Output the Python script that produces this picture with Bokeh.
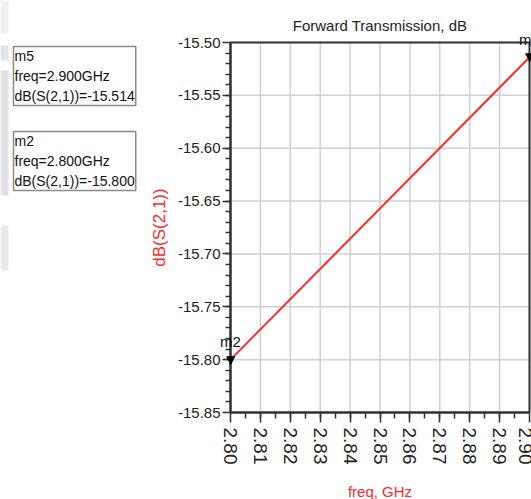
import numpy as np
from bokeh.plotting import figure
from bokeh.models import Range1d, FixedTicker, PrintfTickFormatter, Label, BoxAnnotation
from bokeh.embed import file_html
from bokeh.resources import INLINE

# Swept S21 response (two marker readings bound the sweep)
freq_ghz = [2.800, 2.900]
s21_db = [-15.800, -15.514]

# Markers placed on the trace
marker_names = ["m5", "m2"]
marker_freq = [2.900, 2.800]
marker_db = [-15.514, -15.800]

# Axis tick values
freq_ticks = [2.80, 2.81, 2.82, 2.83, 2.84, 2.85, 2.86, 2.87, 2.88, 2.89, 2.90]
db_ticks = [-15.85, -15.80, -15.75, -15.70, -15.65, -15.60, -15.55, -15.50]

FONT = "Liberation Sans"
RED = "#ff2a2a"
DARK = "#333333"

# Canvas and plotting-box geometry (pixels)
W, H = 531, 499
BOX_L, BOX_R, BOX_T, BOX_B = 230, 529, 42, 412

x_lo, x_hi = freq_ticks[0], freq_ticks[-1]
y_lo, y_hi = db_ticks[0], db_ticks[-1]
kx = (x_hi - x_lo) / (BOX_R - BOX_L)
ky = (y_hi - y_lo) / (BOX_B - BOX_T)

# The drawing area spans the whole canvas so that marker tags and readouts
# may sit outside the axes box; the axes are pinned to the box edges.
p = figure(width=W, height=H, output_backend="svg", toolbar_location=None, title=None,
           x_range=Range1d(x_lo - BOX_L * kx, x_hi + (W - BOX_R) * kx),
           y_range=Range1d(y_lo - (H - BOX_B) * ky, y_hi + BOX_T * ky),
           min_border=0)
p.background_fill_color = "white"
p.border_fill_color = "white"
p.outline_line_color = None
p.grid.visible = False

# Grid lines inside the axes box
p.segment(x0=freq_ticks, x1=freq_ticks, y0=[y_lo] * len(freq_ticks), y1=[y_hi] * len(freq_ticks),
          line_color="#d0d0d0", line_width=1.5)
p.segment(x0=[x_lo] * len(db_ticks), x1=[x_hi] * len(db_ticks), y0=db_ticks, y1=db_ticks,
          line_color="#d0d0d0", line_width=1.5)

# Box border
p.quad(left=[x_lo], right=[x_hi], bottom=[y_lo], top=[y_hi],
       fill_color=None, line_color=DARK, line_width=2)

x_minor = list(np.arange(0.005, 0.1, 0.005) + x_lo)
y_minor = list(np.arange(0.01, 0.35, 0.01) + y_lo)
p.xaxis.ticker = FixedTicker(ticks=freq_ticks, minor_ticks=x_minor)
p.yaxis.ticker = FixedTicker(ticks=db_ticks, minor_ticks=y_minor)
p.xaxis.formatter = PrintfTickFormatter(format="%.2f")
p.yaxis.formatter = PrintfTickFormatter(format="%.2f")
p.xaxis.fixed_location = y_lo
p.yaxis.fixed_location = x_lo
p.xaxis.bounds = (x_lo, x_hi)
p.yaxis.bounds = (y_lo, y_hi)

for ax in (p.xaxis[0], p.yaxis[0]):
    ax.axis_line_color = DARK
    ax.axis_line_width = 2
    ax.major_tick_line_color = DARK
    ax.minor_tick_line_color = DARK
    ax.major_tick_line_width = 1.5
    ax.minor_tick_line_width = 1.5
    ax.major_tick_in = 0
    ax.minor_tick_in = 0
    ax.major_label_text_font = FONT
    ax.major_label_text_color = "#222222"
    ax.axis_label_text_font = FONT
    ax.axis_label_text_font_style = "normal"
    ax.axis_label_text_color = RED

p.xaxis.major_tick_out = 10
p.xaxis.minor_tick_out = 6
p.xaxis.major_label_orientation = -np.pi / 2
p.xaxis.major_label_text_font_size = "19px"
p.xaxis.major_label_standoff = 5
p.xaxis.axis_label = "freq, GHz"
p.xaxis.axis_label_text_font_size = "15px"
p.xaxis.axis_label_standoff = 16

p.yaxis.major_tick_out = 8
p.yaxis.minor_tick_out = 5
p.yaxis.major_label_text_font_size = "15px"
p.yaxis.major_label_standoff = 2
p.yaxis.axis_label = "dB(S(2,1))"
p.yaxis.axis_label_text_font_size = "17px"
p.yaxis.axis_label_standoff = 6

# Title above the axes box
p.add_layout(Label(x=(BOX_L + BOX_R) / 2, y=H - 25, x_units="screen", y_units="screen",
                   text="Forward Transmission, dB", text_font=FONT, text_font_size="15px",
                   text_color="#222222", text_align="center", text_baseline="alphabetic"))

p.line(freq_ghz, s21_db, line_color=RED, line_width=2)

# Marker flags on the trace
for name, f, d in zip(marker_names, marker_freq, marker_db):
    p.add_layout(Label(x=f, y=d, text="\u25bc", text_font="DejaVu Sans", text_font_size="12px",
                       text_align="center", text_baseline="alphabetic", text_color="black"))
    p.add_layout(Label(x=f, y=d, text=name, text_font=FONT, text_font_size="15px",
                       text_align="center", text_baseline="alphabetic", y_offset=18,
                       text_color="#111111"))

# Marker readout boxes to the left of the axes
box_top = [43, 128]
for name, f, d, top in zip(marker_names, marker_freq, marker_db, box_top):
    txt = f"{name}\nfreq={f:.3f}GHz\ndB(S(2,1))={d:.3f}"
    p.add_layout(Label(x=13, y=H - top - 3, x_units="screen", y_units="screen", text=txt,
                       text_font=FONT, text_font_size="14px", text_color="#111111",
                       text_align="left", text_baseline="top", text_line_height=1.28,
                       border_line_color="#8a8a8a", border_line_width=1.5,
                       background_fill_color="white", padding=1))

# Faint grey strip along the left edge
for top, bottom, col in [(0, 33, "#efefef"), (45, 60, "#e4e4e4"),
                         (70, 195, "#e0e0e0"), (225, 270, "#e8e8e8")]:
    p.add_layout(BoxAnnotation(left=0, right=8, top=H - top, bottom=H - bottom,
                               left_units="screen", right_units="screen",
                               top_units="screen", bottom_units="screen",
                               fill_color=col, fill_alpha=1, line_color=None))

open("out.html", "w").write(file_html(p, INLINE))
